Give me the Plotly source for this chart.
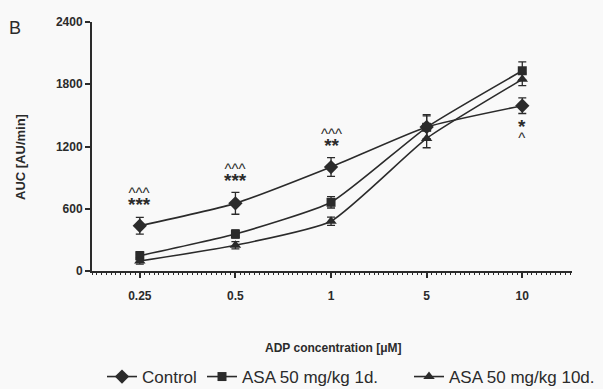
import plotly.graph_objects as go

categories = ["0.25", "0.5", "1", "5", "10"]
control = [436, 652, 1002, 1388, 1593]
control_err = [80, 105, 90, 120, 75]
asa_1d = [147, 356, 662, 1385, 1930]
asa_1d_err = [40, 40, 55, 110, 85]
asa_10d = [96, 248, 480, 1278, 1847]
asa_10d_err = [30, 35, 40, 90, 60]
y_ticks = [0, 600, 1200, 1800, 2400]

# significance marks: (category index, y value of text centre, upper mark, lower mark)
sig_marks = [
    (0, 694, "^^^", "***"),
    (1, 925, "^^^", "***"),
    (2, 1257, "^^^", "**"),
]
sig_below = (4, 1353, "*", "^")

xs = list(range(len(categories)))
ink = "#2b2b2b"
FONT = "Liberation Sans, Arial"

L, R, T, B = 92, 31, 22, 118
W, H = 603, 389
pw, ph = W - L - R, H - T - B

def px_x(p):
    return (p - L) / pw

def px_y(p):
    return (H - B - p) / ph

fig = go.Figure()
series = [
    ("Control", control, control_err, "diamond", 11, "legend", 102),
    ("ASA 50 mg/kg 1d.", asa_1d, asa_1d_err, "square", 9, "legend2", 202),
    ("ASA 50 mg/kg 10d.", asa_10d, asa_10d_err, "triangle-up", 10, "legend3", 409),
]
legends = {}
for name, ys, err, sym, msize, lg, lx in series:
    fig.add_trace(go.Scatter(
        x=xs, y=ys, name=name, mode="lines+markers", legend=lg,
        line=dict(color=ink, width=1.6, shape="spline", smoothing=0.5),
        marker=dict(symbol=sym, size=msize, color=ink),
        error_y=dict(type="data", array=err, visible=True, color=ink, thickness=1.3, width=4),
    ))
    legends[lg] = dict(orientation="h", x=px_x(lx), xanchor="left", y=px_y(377), yanchor="middle",
                       font=dict(size=17, color=ink, family=FONT), bgcolor="rgba(0,0,0,0)",
                       borderwidth=0)

for xi, yv, up, low in sig_marks:
    fig.add_annotation(x=xi, y=yv,
                       text=f"<span style='font-size:15px'>{up}</span><br>"
                            f"<span style='font-size:19px'><b>{low}</b></span>",
                       showarrow=False, font=dict(family=FONT, size=10, color=ink),
                       xanchor="center", yanchor="middle")
xi, yv, up, low = sig_below
fig.add_annotation(x=xi, y=yv,
                   text=f"<span style='font-size:19px'><b>{up}</b></span><br>"
                        f"<span style='font-size:15px'>{low}</span>",
                   showarrow=False, font=dict(family=FONT, size=7.5, color=ink),
                   xanchor="center", yanchor="middle")

# panel label and axis titles
fig.add_annotation(x=px_x(15), y=px_y(28), xref="paper", yref="paper", text="B", showarrow=False,
                   font=dict(size=18, color=ink, family=FONT), xanchor="center", yanchor="middle")
fig.add_annotation(x=px_x(333), y=px_y(348), xref="paper", yref="paper",
                   text="<b>ADP concentration [μM]</b>", showarrow=False,
                   font=dict(size=12, color=ink, family=FONT), xanchor="center", yanchor="middle")
fig.add_annotation(x=px_x(20), y=px_y(157), xref="paper", yref="paper",
                   text="<b>AUC [AU/min]</b>", showarrow=False, textangle=-90,
                   font=dict(size=13, color=ink, family=FONT), xanchor="center", yanchor="middle")

fig.update_layout(
    width=W, height=H,
    margin=dict(l=L, r=R, t=T, b=B, autoexpand=False),
    paper_bgcolor="#f9f9f9", plot_bgcolor="#f9f9f9",
    font=dict(family=FONT, color=ink),
    showlegend=True,
    xaxis=dict(
        tickmode="array", tickvals=xs, ticktext=[f"<b>{c}</b>" for c in categories],
        range=[-0.5, 4.52], showgrid=False, zeroline=False, automargin=False,
        showline=True, linecolor=ink, linewidth=2,
        ticks="outside", ticklen=5, tickwidth=2, tickcolor=ink,
        tickfont=dict(size=12, family=FONT, color=ink), ticklabelstandoff=8,
        minor=dict(dtick=0.05, ticklen=2, tickwidth=1, tickcolor=ink, ticks="outside", showgrid=False),
    ),
    yaxis=dict(
        range=[0, 2400], tickmode="array", tickvals=y_ticks,
        ticktext=[f"<b>{v}</b>" for v in y_ticks],
        showgrid=False, zeroline=False, automargin=False,
        showline=True, linecolor=ink, linewidth=2,
        ticks="outside", ticklen=5, tickwidth=2, tickcolor=ink,
        tickfont=dict(size=12, family=FONT, color=ink),
    ),
    **legends,
)

fig.write_html("out.html", config={"displayModeBar": False},
               post_script="document.body.style.margin='0';document.body.style.background='#f9f9f9';")
